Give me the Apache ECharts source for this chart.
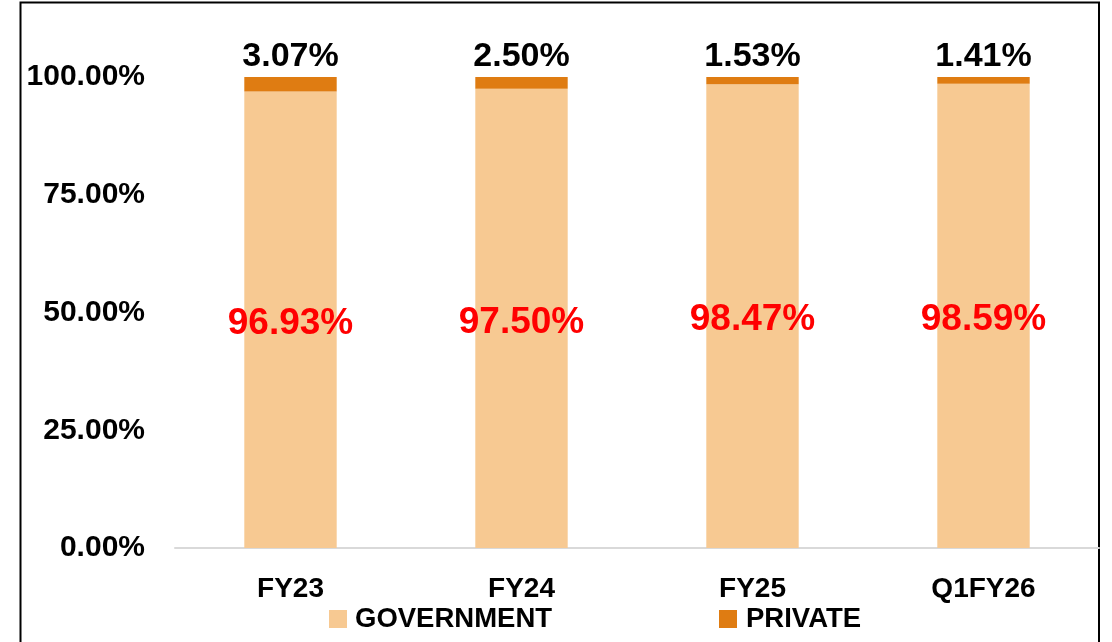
<!DOCTYPE html>
<html>
<head>
<meta charset="utf-8">
<script src="https://cdn.jsdelivr.net/npm/echarts@6/dist/echarts.min.js"></script>
<style>
html,body{margin:0;padding:0;background:#fff;}
#chart{width:1112px;height:642px;}
</style>
</head>
<body>
<div id="chart"></div>
<script>
const categories = ['FY23', 'FY24', 'FY25', 'Q1FY26'];
const government = [96.93, 97.50, 98.47, 98.59];
const privateShare = [3.07, 2.50, 1.53, 1.41];
const yTicks = [0, 25, 50, 75, 100];

const FONT = '"Liberation Sans", Arial, sans-serif';
const chart = echarts.init(document.getElementById('chart'), null, {renderer: 'canvas'});
chart.setOption({
  animation: false,
  backgroundColor: '#ffffff',
  graphic: [{
    type: 'rect',
    shape: {x: 20.5, y: 2.5, width: 1078.5, height: 700},
    style: {fill: 'none', stroke: '#000000', lineWidth: 2},
    silent: true
  }],
  grid: {left: 175, right: 13, top: 77, bottom: 94, containLabel: false},
  legend: [{
    data: ['GOVERNMENT'],
    left: 329, top: 605, padding: 0,
    itemWidth: 18, itemHeight: 18, itemGap: 8,
    icon: 'rect',
    textStyle: {fontFamily: FONT, fontWeight: 'bold', fontSize: 27.5, color: '#000', padding: [0, 0, 0, 3]}
  }, {
    data: ['PRIVATE'],
    left: 719, top: 605, padding: 0,
    itemWidth: 18, itemHeight: 18, itemGap: 8,
    icon: 'rect',
    textStyle: {fontFamily: FONT, fontWeight: 'bold', fontSize: 27.5, color: '#000', padding: [0, 0, 0, 4]}
  }],
  xAxis: {
    type: 'category',
    data: categories,
    axisTick: {show: false},
    axisLine: {show: true, lineStyle: {color: '#d9d9d9', width: 2}},
    axisLabel: {fontFamily: FONT, fontWeight: 'bold', fontSize: 28, color: '#000', margin: 27}
  },
  yAxis: {
    type: 'value',
    min: 0, max: 100, interval: 25,
    axisLine: {show: false},
    axisTick: {show: false},
    splitLine: {show: false},
    axisLabel: {
      fontFamily: FONT, fontWeight: 'bold', fontSize: 30, color: '#000', margin: 30,
      formatter: v => yTicks.includes(v) ? v.toFixed(2) + '%' : ''
    }
  },
  series: [{
    name: 'GOVERNMENT',
    type: 'bar',
    stack: 'total',
    data: government,
    barWidth: '40%',
    itemStyle: {color: '#F7C992'},
    label: {
      show: true, position: ['50%', '50%'], align: 'center', verticalAlign: 'middle',
      offset: [0, 4],
      formatter: p => p.value.toFixed(2) + '%',
      fontFamily: FONT, fontWeight: 'bold', fontSize: 37, color: '#FF0000'
    }
  }, {
    name: 'PRIVATE',
    type: 'bar',
    stack: 'total',
    data: privateShare,
    barWidth: '40%',
    itemStyle: {color: '#DF7C12'},
    label: {
      show: true, position: 'top', distance: 3,
      formatter: p => p.value.toFixed(2) + '%',
      fontFamily: FONT, fontWeight: 'bold', fontSize: 34, color: '#000'
    }
  }]
});
</script>
</body>
</html>
